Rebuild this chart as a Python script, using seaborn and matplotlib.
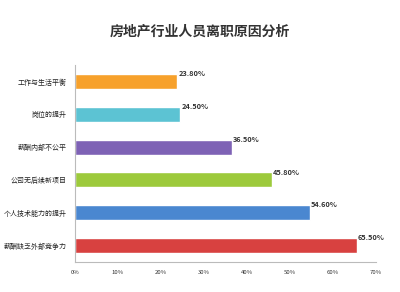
import matplotlib
matplotlib.use("Agg")
import matplotlib.pyplot as plt
import seaborn as sns
import pandas as pd

categories = ["工作与生活平衡", "岗位的提升", "薪酬内部不公平", "公司无后续新项目", "个人技术能力的提升", "薪酬缺乏外部竞争力"]
values = [23.8, 24.5, 36.5, 45.8, 54.6, 65.5]
colors = ["#F7A12B", "#5CC3D3", "#7E62B5", "#9DCA3C", "#4A87D0", "#D84140"]
xticks = [0, 10, 20, 30, 40, 50, 60, 70]
title = "房地产行业人员离职原因分析"

sns.set_theme(style="white")
plt.rcParams['font.family'] = ['Noto Sans CJK SC', 'DejaVu Sans']

df = pd.DataFrame({"cat": categories, "val": values})

fig = plt.figure(figsize=(4, 2.92), dpi=100)
ax = fig.add_axes([0.1875, 0.103, 0.7525, 0.674])
sns.barplot(data=df, y="cat", x="val", hue="cat", palette=colors, orient="h",
            width=0.46, legend=False, ax=ax, saturation=1)

ax.set_xlim(0, 70)
ax.set_ylim(5.5, -0.5)
ax.set_xticks(xticks)
ax.set_xticklabels([f"{t}%" for t in xticks], fontsize=4.3, color="#333333")
ax.tick_params(axis="y", labelsize=5, colors="#222222", length=0, pad=6)
ax.tick_params(axis="x", length=0, pad=6)
ax.set_xlabel("")
ax.set_ylabel("")
for s in ["top", "right"]:
    ax.spines[s].set_visible(False)
for s in ["left", "bottom"]:
    ax.spines[s].set_color("#BBBBBB")
    ax.spines[s].set_linewidth(0.8)

for i, v in enumerate(values):
    ax.text(v + 0.2, i - 0.24, f"{v:.2f}%", fontsize=5.3, color="#333333",
            va="center", ha="left", fontweight="bold")

fig.text(0.5, 0.89, title, ha="center", va="center", fontsize=10,
         fontweight="bold", color="#333333")

fig.savefig("out.png", dpi=100)
